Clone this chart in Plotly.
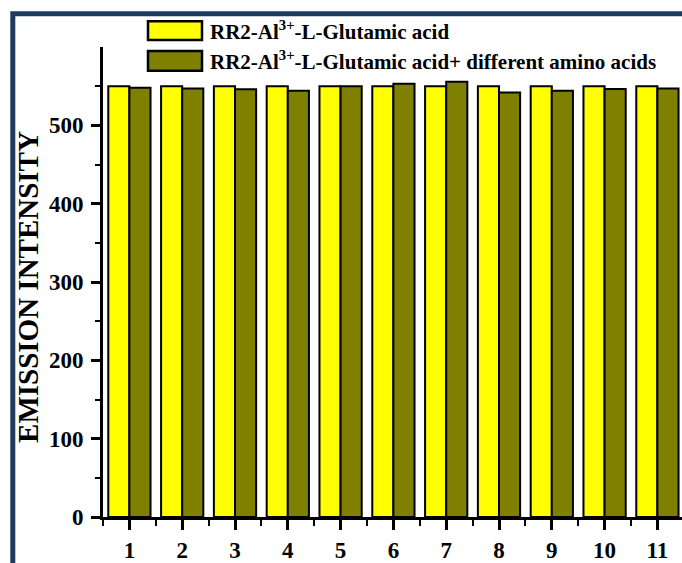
import plotly.graph_objects as go

# Sample index on the x axis
samples = list(range(1, 12))

# Emission intensity of each sample
glutamic = [550, 550, 550, 550, 550, 550, 550, 550, 550, 550, 550]
with_amino = [548, 547, 546, 544, 550, 553, 555.5, 542, 544, 546.5, 547]

series_names = [
    "RR2-Al<sup>3+</sup>-L-Glutamic acid",
    "RR2-Al<sup>3+</sup>-L-Glutamic acid+ different amino acids",
]
series_colors = ["#FFFF00", "#808000"]

y_major = [0, 100, 200, 300, 400, 500]
y_minor = [50, 150, 250, 350, 450, 550]

W, H = 682, 563
ML, MR, MT, MB = 103, 0, 47, 41
PW, PH = W - ML - MR, H - MT - MB


def px_x(p):
    return (p - ML) / PW


def px_y(p):
    return (H - MB - p) / PH


FONT = "Liberation Serif"

fig = go.Figure()
for name, vals, col in zip(series_names, [glutamic, with_amino], series_colors):
    fig.add_trace(go.Bar(
        x=samples, y=vals, name=name,
        marker=dict(color=col, line=dict(color="black", width=2)),
        showlegend=False,
    ))

# Hand-drawn legend: wide swatches with labels
legend_boxes = [(21, 40), (51, 71)]
shapes = []
annotations = []
for (top, bot), name, col in zip(legend_boxes, series_names, series_colors):
    shapes.append(dict(
        type="rect", xref="paper", yref="paper",
        x0=px_x(148), x1=px_x(202), y0=px_y(bot), y1=px_y(top),
        fillcolor=col, line=dict(color="black", width=2.5),
    ))
    annotations.append(dict(
        xref="paper", yref="paper", x=px_x(208), y=px_y((top + bot) / 2),
        xanchor="left", yanchor="middle", showarrow=False, text=name,
        font=dict(family=FONT, size=21, color="black", weight="bold"),
    ))

# Frame around the figure
shapes.append(dict(
    type="rect", xref="paper", yref="paper",
    x0=px_x(12.8), x1=1.2, y0=-0.3, y1=px_y(13.5),
    line=dict(color="#1F3A60", width=5), fillcolor="rgba(0,0,0,0)",
    layer="above",
))

annotations.append(dict(
    xref="paper", yref="paper", x=px_x(28.5), y=px_y(290),
    xanchor="center", yanchor="middle", showarrow=False, textangle=-90,
    text="EMISSION INTENSITY",
    font=dict(family=FONT, size=29, color="black", weight="bold"),
))

fig.update_layout(
    width=W, height=H,
    margin=dict(l=ML, r=MR, t=MT, b=MB, pad=0),
    paper_bgcolor="white", plot_bgcolor="white",
    barmode="group", bargap=0.2, bargroupgap=0,
    shapes=shapes, annotations=annotations,
    font=dict(family=FONT, color="black"),
)

fig.update_xaxes(
    range=[0.5, 0.5 + PW / 52.8],
    tickmode="array", tickvals=samples, ticktext=[str(s) for s in samples],
    ticks="outside", ticklen=10, tickwidth=3, tickcolor="black",
    minor=dict(tickmode="linear", tick0=0.5, dtick=1, ticks="outside",
               ticklen=6, tickwidth=2, tickcolor="black"),
    showline=True, linecolor="black", linewidth=3,
    showgrid=False, zeroline=False,
    tickfont=dict(family=FONT, size=23, color="black", weight="bold"),
)
fig.update_yaxes(
    range=[0, 600],
    tickmode="array", tickvals=y_major, ticktext=[str(v) for v in y_major],
    ticks="outside", ticklen=9, tickwidth=3, tickcolor="black",
    minor=dict(tickmode="array", tickvals=y_minor, ticks="outside",
               ticklen=5, tickwidth=2, tickcolor="black"),
    showline=True, linecolor="black", linewidth=3,
    showgrid=False, zeroline=False, ticklabelstandoff=3,
    tickfont=dict(family=FONT, size=23, color="black", weight="bold"),
)

fig.write_html("out.html")
